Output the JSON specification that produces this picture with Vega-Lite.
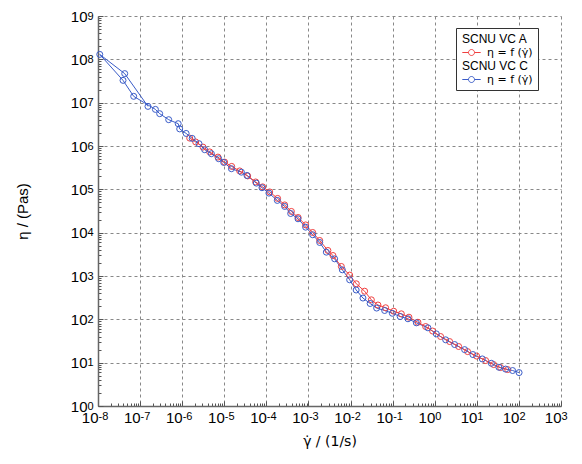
{
  "$schema": "https://vega.github.io/schema/vega-lite/v6.json",
  "width": 463,
  "height": 390,
  "autosize": "none",
  "padding": {"left": 98, "top": 16, "right": 21, "bottom": 58},
  "background": "white",
  "config": {"view": {"stroke": null}, "font": "Liberation Sans"},
  "data": {"values": [
    {"series": "C", "i": 1, "rate": 1.54e-7, "eta": 8.2e6},
    {"series": "C", "i": 2, "rate": 4.31e-8, "eta": 4.68e7},
    {"series": "C", "i": 3, "rate": 1.10e-8, "eta": 1.30e8},
    {"series": "C", "i": 4, "rate": 3.93e-8, "eta": 3.27e7},
    {"series": "C", "i": 5, "rate": 7.05e-8, "eta": 1.40e7},
    {"series": "C", "i": 6, "rate": 2.31e-7, "eta": 7.00e6},
    {"series": "C", "i": 7, "rate": 2.92e-7, "eta": 5.57e6},
    {"series": "C", "i": 8, "rate": 4.78e-7, "eta": 4.05e6},
    {"series": "C", "i": 9, "rate": 8.04e-7, "eta": 3.27e6},
    {"series": "C", "i": 10, "rate": 8.73e-7, "eta": 2.48e6},
    {"series": "C", "i": 11, "rate": 1.24e-6, "eta": 1.95e6},
    {"series": "C", "i": 12, "rate": 1.73e-6, "eta": 1.50e6},
    {"series": "C", "i": 13, "rate": 2.51e-6, "eta": 1.13e6},
    {"series": "C", "i": 14, "rate": 3.42e-6, "eta": 8.22e5},
    {"series": "C", "i": 15, "rate": 4.94e-6, "eta": 6.64e5},
    {"series": "C", "i": 16, "rate": 7.36e-6, "eta": 5.09e5},
    {"series": "C", "i": 17, "rate": 9.68e-6, "eta": 4.18e5},
    {"series": "C", "i": 18, "rate": 1.48e-5, "eta": 2.99e5},
    {"series": "C", "i": 19, "rate": 2.55e-5, "eta": 2.49e5},
    {"series": "C", "i": 20, "rate": 3.46e-5, "eta": 2.09e5},
    {"series": "C", "i": 21, "rate": 5.78e-5, "eta": 1.39e5},
    {"series": "C", "i": 22, "rate": 7.85e-5, "eta": 1.09e5},
    {"series": "C", "i": 23, "rate": 1.15e-4, "eta": 8.17e4},
    {"series": "C", "i": 24, "rate": 1.82e-4, "eta": 5.55e4},
    {"series": "C", "i": 25, "rate": 2.72e-4, "eta": 4.03e4},
    {"series": "C", "i": 26, "rate": 3.78e-4, "eta": 2.77e4},
    {"series": "C", "i": 27, "rate": 5.64e-4, "eta": 2.09e4},
    {"series": "C", "i": 28, "rate": 8.57e-4, "eta": 1.34e4},
    {"series": "C", "i": 29, "rate": 1.26e-3, "eta": 8950},
    {"series": "C", "i": 30, "rate": 1.85e-3, "eta": 5940},
    {"series": "C", "i": 31, "rate": 2.66e-3, "eta": 3550},
    {"series": "C", "i": 32, "rate": 4.19e-3, "eta": 2490},
    {"series": "C", "i": 33, "rate": 6.38e-3, "eta": 1390},
    {"series": "C", "i": 34, "rate": 9.53e-3, "eta": 817},
    {"series": "C", "i": 35, "rate": 1.36e-2, "eta": 475},
    {"series": "C", "i": 36, "rate": 1.97e-2, "eta": 310},
    {"series": "C", "i": 37, "rate": 2.92e-2, "eta": 232},
    {"series": "C", "i": 38, "rate": 4.17e-2, "eta": 182},
    {"series": "C", "i": 39, "rate": 6.46e-2, "eta": 160},
    {"series": "C", "i": 40, "rate": 9.84e-2, "eta": 138},
    {"series": "C", "i": 41, "rate": 0.151, "eta": 116},
    {"series": "C", "i": 42, "rate": 0.231, "eta": 103},
    {"series": "C", "i": 43, "rate": 0.366, "eta": 83.0},
    {"series": "C", "i": 44, "rate": 0.689, "eta": 63.7},
    {"series": "C", "i": 45, "rate": 1.09, "eta": 46.2},
    {"series": "C", "i": 46, "rate": 1.82, "eta": 33.7},
    {"series": "C", "i": 47, "rate": 2.97, "eta": 26.2},
    {"series": "C", "i": 48, "rate": 5.13, "eta": 20.0},
    {"series": "C", "i": 49, "rate": 8.07, "eta": 15.4},
    {"series": "C", "i": 50, "rate": 13.5, "eta": 12.2},
    {"series": "C", "i": 51, "rate": 22.1, "eta": 9.68},
    {"series": "C", "i": 52, "rate": 33.5, "eta": 7.83},
    {"series": "C", "i": 53, "rate": 48.3, "eta": 7.11},
    {"series": "C", "i": 54, "rate": 70.8, "eta": 6.58},
    {"series": "C", "i": 55, "rate": 101, "eta": 5.90},
    {"series": "A", "i": 1, "rate": 1.51e-6, "eta": 1.52e6},
    {"series": "A", "i": 2, "rate": 2.09e-6, "eta": 1.24e6},
    {"series": "A", "i": 3, "rate": 3.12e-6, "eta": 9.44e5},
    {"series": "A", "i": 4, "rate": 4.50e-6, "eta": 7.31e5},
    {"series": "A", "i": 5, "rate": 7.08e-6, "eta": 5.55e5},
    {"series": "A", "i": 6, "rate": 1.02e-5, "eta": 4.25e5},
    {"series": "A", "i": 7, "rate": 1.50e-5, "eta": 3.38e5},
    {"series": "A", "i": 8, "rate": 2.32e-5, "eta": 2.66e5},
    {"series": "A", "i": 9, "rate": 3.60e-5, "eta": 2.04e5},
    {"series": "A", "i": 10, "rate": 5.57e-5, "eta": 1.48e5},
    {"series": "A", "i": 11, "rate": 8.17e-5, "eta": 1.14e5},
    {"series": "A", "i": 12, "rate": 1.20e-4, "eta": 8.71e4},
    {"series": "A", "i": 13, "rate": 1.85e-4, "eta": 6.17e4},
    {"series": "A", "i": 14, "rate": 2.72e-4, "eta": 4.37e4},
    {"series": "A", "i": 15, "rate": 3.93e-4, "eta": 3.09e4},
    {"series": "A", "i": 16, "rate": 5.69e-4, "eta": 2.24e4},
    {"series": "A", "i": 17, "rate": 8.57e-4, "eta": 1.51e4},
    {"series": "A", "i": 18, "rate": 1.26e-3, "eta": 1.01e4},
    {"series": "A", "i": 19, "rate": 1.85e-3, "eta": 6610},
    {"series": "A", "i": 20, "rate": 2.90e-3, "eta": 3880},
    {"series": "A", "i": 21, "rate": 3.82e-3, "eta": 2970},
    {"series": "A", "i": 22, "rate": 6.04e-3, "eta": 1660},
    {"series": "A", "i": 23, "rate": 9.53e-3, "eta": 1050},
    {"series": "A", "i": 24, "rate": 1.37e-2, "eta": 661},
    {"series": "A", "i": 25, "rate": 2.16e-2, "eta": 446},
    {"series": "A", "i": 26, "rate": 3.12e-2, "eta": 282},
    {"series": "A", "i": 27, "rate": 4.48e-2, "eta": 214},
    {"series": "A", "i": 28, "rate": 6.82e-2, "eta": 185},
    {"series": "A", "i": 29, "rate": 0.106, "eta": 154},
    {"series": "A", "i": 30, "rate": 0.161, "eta": 134},
    {"series": "A", "i": 31, "rate": 0.244, "eta": 112},
    {"series": "A", "i": 32, "rate": 0.399, "eta": 85.7},
    {"series": "A", "i": 33, "rate": 0.608, "eta": 68.2},
    {"series": "A", "i": 34, "rate": 0.891, "eta": 53.7},
    {"series": "A", "i": 35, "rate": 1.38, "eta": 40.1},
    {"series": "A", "i": 36, "rate": 2.26, "eta": 30.7},
    {"series": "A", "i": 37, "rate": 3.70, "eta": 23.6},
    {"series": "A", "i": 38, "rate": 6.04, "eta": 18.0},
    {"series": "A", "i": 39, "rate": 9.89, "eta": 14.2},
    {"series": "A", "i": 40, "rate": 16.2, "eta": 11.2},
    {"series": "A", "i": 41, "rate": 25.1, "eta": 9.04},
    {"series": "A", "i": 42, "rate": 36.7, "eta": 7.71},
    {"series": "A", "i": 43, "rate": 54.0, "eta": 6.93}
  ]},
  "encoding": {
    "color": {
      "field": "series", "type": "nominal",
      "scale": {"domain": ["hA", "A", "hC", "C"], "range": ["rgba(0,0,0,0)", "#f04040", "rgba(0,0,0,0)", "#3a5cc8"]},
      "legend": {
        "orient": "none", "legendX": 358, "legendY": 12, "direction": "vertical",
        "title": null,
        "labelExpr": "datum.value == 'hA' ? 'SCNU VC A' : datum.value == 'hC' ? 'SCNU VC C' : 'η = f (γ̇)'",
        "labelFont": "Liberation Sans", "labelFontSize": 12, "labelColor": "black",
        "symbolType": "M-2.3,0H-0.75M0.75,0H2.3M0.75,0A0.75,0.75,0,1,1,-0.75,0A0.75,0.75,0,1,1,0.75,0",
        "symbolSize": 64, "symbolStrokeWidth": 1, "symbolFillColor": "transparent",
        "symbolOffset": 5, "labelOffset": 10,
        "rowPadding": 1, "padding": 5,
        "strokeColor": "#333333", "fillColor": "white",
        "encode": {"labels": {"update": {
          "dx": {"signal": "datum.value == 'hA' || datum.value == 'hC' ? -25 : 0"},
          "font": {"signal": "datum.value == 'hA' || datum.value == 'hC' ? 'Liberation Sans' : 'DejaVu Sans'"},
          "fontSize": {"signal": "datum.value == 'hA' || datum.value == 'hC' ? 12 : 11"}
        }}}
      }
    },
    "order": {"field": "i", "type": "quantitative"}
  },
  "layer": [
    {
      "mark": {"type": "line", "strokeWidth": 1},
      "encoding": {
        "x": {
          "field": "rate", "type": "quantitative",
          "scale": {"type": "log", "domain": [1e-8, 1000], "nice": false},
          "axis": {
            "orient": "bottom",
            "title": "γ̇ / (1/s)",
            "titleFont": "DejaVu Sans", "titleFontSize": 14, "titleFontWeight": "normal", "titleColor": "black",
            "titleY": 35, "titleBaseline": "middle",
            "values": [1e-8,2e-8,3e-8,4e-8,5e-8,6e-8,7e-8,8e-8,9e-8,1e-7,2e-7,3e-7,4e-7,5e-7,6e-7,7e-7,8e-7,9e-7,1e-6,2e-6,3e-6,4e-6,5e-6,6e-6,7e-6,8e-6,9e-6,1e-5,2e-5,3e-5,4e-5,5e-5,6e-5,7e-5,8e-5,9e-5,1e-4,2e-4,3e-4,4e-4,5e-4,6e-4,7e-4,8e-4,9e-4,1e-3,2e-3,3e-3,4e-3,5e-3,6e-3,7e-3,8e-3,9e-3,1e-2,2e-2,3e-2,4e-2,5e-2,6e-2,7e-2,8e-2,9e-2,0.1,0.2,0.3,0.4,0.5,0.6,0.7,0.8,0.9,1,2,3,4,5,6,7,8,9,10,20,30,40,50,60,70,80,90,100,200,300,400,500,600,700,800,900,1000],
            "labelExpr": "abs(log(datum.value)/LN10 - round(log(datum.value)/LN10)) < 0.001 ? '10' : ''",
            "labelFont": "Liberation Sans", "labelFontSize": 15, "labelColor": "black",
            "labelAlign": "right", "labelDx": 5, "labelBaseline": "top",
            "labelPadding": 9, "labelOverlap": false, "labelFlush": false, "labelBound": false,
            "grid": true, "gridDash": [3, 3], "gridColor": "#888888",
            "gridOpacity": {"condition": {"test": "abs(log(datum.value)/LN10 - round(log(datum.value)/LN10)) < 0.001", "value": 1}, "value": 0},
            "tickSize": {"condition": {"test": "abs(log(datum.value)/LN10 - round(log(datum.value)/LN10)) < 0.001", "value": -5}, "value": -3},
            "tickColor": "#555555",
            "domainColor": "#666666", "domainWidth": 1.5
          }
        },
        "y": {
          "field": "eta", "type": "quantitative",
          "scale": {"type": "log", "domain": [1, 1e9], "nice": false},
          "axis": {
            "orient": "left",
            "title": "η / (Pas)",
            "titleFont": "Liberation Sans", "titleFontSize": 15, "titleFontWeight": "normal", "titleColor": "black",
            "titleX": -76, "titleY": 195, "titleBaseline": "middle", "titleAlign": "center", "titleAngle": -90,
            "values": [1,2,3,4,5,6,7,8,9,10,20,30,40,50,60,70,80,90,100,200,300,400,500,600,700,800,900,1000,2000,3000,4000,5000,6000,7000,8000,9000,1e4,2e4,3e4,4e4,5e4,6e4,7e4,8e4,9e4,1e5,2e5,3e5,4e5,5e5,6e5,7e5,8e5,9e5,1e6,2e6,3e6,4e6,5e6,6e6,7e6,8e6,9e6,1e7,2e7,3e7,4e7,5e7,6e7,7e7,8e7,9e7,1e8,2e8,3e8,4e8,5e8,6e8,7e8,8e8,9e8,1e9],
            "labelExpr": "abs(log(datum.value)/LN10 - round(log(datum.value)/LN10)) < 0.001 ? '10' : ''",
            "labelFont": "Liberation Sans", "labelFontSize": 15, "labelColor": "black",
            "labelAlign": "right", "labelDx": -12, "labelDy": 3, "labelBaseline": "middle",
            "labelPadding": 16, "labelOverlap": false, "labelFlush": false, "labelBound": false,
            "grid": true, "gridDash": [3, 3], "gridColor": "#888888",
            "gridOpacity": {"condition": {"test": "abs(log(datum.value)/LN10 - round(log(datum.value)/LN10)) < 0.001", "value": 1}, "value": 0},
            "tickSize": {"condition": {"test": "abs(log(datum.value)/LN10 - round(log(datum.value)/LN10)) < 0.001", "value": -5}, "value": -3},
            "tickColor": "#555555",
            "domainColor": "#666666", "domainWidth": 1.5
          }
        }
      }
    },
    {
      "mark": {"type": "point", "shape": "circle", "size": 36, "strokeWidth": 1, "filled": false, "opacity": 1},
      "encoding": {
        "x": {
          "field": "rate", "type": "quantitative",
          "axis": {
            "orient": "bottom", "title": null, "domain": false, "grid": false,
            "values": [1e-8,1e-7,1e-6,1e-5,1e-4,1e-3,1e-2,0.1,1,10,100,1000],
            "labelExpr": "(round(log(datum.value)/LN10) < 0 ? '-' : '') + abs(round(log(datum.value)/LN10))",
            "labelFont": "Liberation Sans", "labelFontSize": 11, "labelColor": "black",
            "labelAlign": "left", "labelDx": 5, "labelDy": -4, "labelBaseline": "top",
            "labelPadding": 9, "labelOverlap": false, "labelFlush": false, "labelBound": false,
            "tickSize": -5, "tickOpacity": 0
          }
        },
        "y": {
          "field": "eta", "type": "quantitative",
          "axis": {
            "orient": "left", "title": null, "domain": false, "grid": false,
            "values": [1,10,100,1000,1e4,1e5,1e6,1e7,1e8,1e9],
            "labelExpr": "'' + round(log(datum.value)/LN10)",
            "labelFont": "Liberation Sans", "labelFontSize": 11, "labelColor": "black",
            "labelAlign": "left", "labelDx": -12, "labelDy": -3, "labelBaseline": "middle",
            "labelPadding": 16, "labelOverlap": false, "labelFlush": false, "labelBound": false,
            "tickSize": -5, "tickOpacity": 0
          }
        }
      }
    }
  ],
  "resolve": {"axis": {"x": "independent", "y": "independent"}}
}
